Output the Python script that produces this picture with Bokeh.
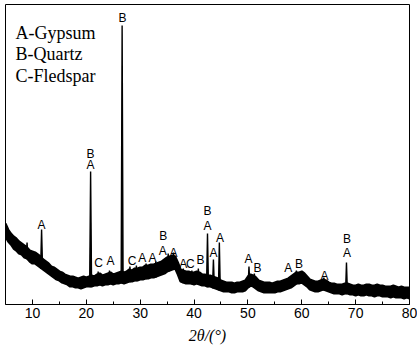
import numpy as np
from bokeh.plotting import figure
from bokeh.models import FixedTicker
from bokeh.core.properties import value
from bokeh.embed import file_html
from bokeh.resources import INLINE

# 2theta grid of the noisy background band (deg)
two_theta = [5.0 + 0.5 * i for i in range(151)]
# upper edge of the band (a.u.)
band_upper = [81, 75, 71, 68, 66, 63, 61, 59, 57, 54, 53, 52, 50, 48, 45, 43, 41, 38, 37, 35,
              33, 32, 30, 29, 28, 28, 27, 26, 27, 28, 27, 28, 29, 28, 30, 31, 29, 30, 31, 32,
              30, 31, 32, 33, 32, 33, 35, 34, 36, 36, 37, 37, 39, 39, 40, 40, 41, 42, 43, 45,
              47, 48, 49, 48, 42, 35, 34, 33, 33, 32, 32, 33, 32, 30, 30, 29, 29, 28, 27, 26,
              24, 23, 22, 22, 22, 21, 22, 22, 23, 24, 28, 30, 29, 27, 24, 23, 22, 22, 22, 21,
              22, 23, 23, 24, 25, 26, 28, 30, 32, 32, 33, 31, 28, 25, 24, 23, 23, 24, 25, 24,
              22, 21, 21, 20, 20, 20, 21, 21, 20, 19, 19, 20, 19, 19, 20, 20, 19, 19, 20, 19,
              19, 18, 18, 18, 19, 18, 17, 18, 17, 17, 17]
# lower edge of the band (a.u.)
band_lower = [68, 63, 60, 56, 54, 51, 50, 47, 46, 43, 41, 41, 39, 37, 35, 33, 31, 29, 27, 25,
              24, 22, 21, 20, 18, 18, 17, 17, 16, 17, 18, 18, 18, 19, 19, 20, 19, 20, 20, 21,
              20, 21, 21, 22, 21, 22, 23, 23, 24, 24, 25, 25, 26, 26, 27, 27, 28, 29, 30, 31,
              33, 34, 35, 36, 30, 23, 22, 21, 21, 21, 20, 21, 20, 19, 19, 18, 18, 17, 16, 15,
              14, 13, 13, 13, 12, 12, 13, 13, 13, 14, 17, 19, 18, 16, 14, 13, 12, 12, 12, 12,
              12, 13, 13, 14, 15, 16, 17, 19, 21, 21, 22, 20, 18, 15, 14, 13, 13, 14, 15, 14,
              13, 12, 11, 11, 11, 10, 11, 11, 10, 10, 9, 10, 9, 9, 10, 9, 9, 8, 9, 9,
              8, 8, 8, 7, 8, 7, 7, 7, 6, 7, 6]

# diffraction peaks: position (deg) and apex intensity (a.u.)
peak_pos = [9.0, 11.7, 20.8, 22.2, 24.3, 26.65, 28.1, 29.3, 31.1, 32.9, 35.2, 36.2,
            38.0, 39.6, 40.8, 42.5, 43.6, 44.7, 50.2, 51.2, 59.0, 64.1, 68.3]
peak_top = [62, 75, 133, 33, 34, 279, 38, 39, 41, 43, 51, 52,
            36, 34, 36, 71, 45, 62, 38, 31, 34, 27, 42]

# phase labels
lab_text = ["A", "B", "A", "B", "C", "A", "C", "A", "A", "A", "B", "A",
            "A", "C", "B", "B", "A", "A", "A", "A", "B", "A", "B", "A", "B", "A"]
lab_x = [11.7, 20.8, 20.8, 26.7, 22.3, 24.5, 28.5, 30.4, 32.3, 34.2, 34.3, 36.2,
         38.0, 39.3, 41.2, 42.5, 42.5, 43.6, 44.8, 50.1, 51.8, 57.5, 59.5, 64.2, 68.4, 68.4]
lab_y = [80, 151, 140, 287, 42, 44, 44, 47, 47, 54, 69, 52,
         41, 41, 45, 94, 79, 52, 67, 46, 37, 37, 41, 29, 66, 52]

legend_lines = ["A-Gypsum", "B-Quartz", "C-Fledspar"]
legend_y = [272, 251, 229]

x_ticks = [10, 20, 30, 40, 50, 60, 70, 80]
x_minor = [15, 25, 35, 45, 55, 65, 75]

p = figure(frame_width=404, frame_height=300, x_range=(5, 80), y_range=(0, 300),
           output_backend="svg", toolbar_location=None,
           min_border_left=5, min_border_right=8, min_border_top=4, min_border_bottom=0)
p.background_fill_color = "white"
p.border_fill_color = "white"
p.outline_line_color = "black"
p.outline_line_width = 1
p.xgrid.visible = False
p.ygrid.visible = False
p.yaxis.visible = False

ax = p.xaxis[0]
ax.ticker = FixedTicker(ticks=x_ticks, minor_ticks=x_minor)
ax.major_tick_in = 5
ax.major_tick_out = 0
ax.minor_tick_in = 3
ax.minor_tick_out = 0
ax.axis_line_color = "black"
ax.major_label_text_font = "Liberation Sans"
ax.major_label_text_font_size = "14px"
ax.major_label_text_color = "black"
ax.major_label_standoff = 3
ax.axis_label = "2θ/(°)"
ax.axis_label_text_font = "Liberation Serif"
ax.axis_label_text_font_style = "italic"
ax.axis_label_text_font_size = "16px"
ax.axis_label_text_color = "black"
ax.axis_label_standoff = 6

# background band
p.varea(x=two_theta, y1=band_lower, y2=band_upper, fill_color="black")
p.line(x=two_theta, y=band_upper, line_color="black", line_width=2.2)
p.line(x=two_theta, y=band_lower, line_color="black", line_width=2.2)

# peaks
base = np.interp(peak_pos, two_theta, band_lower)
hw = 0.18
xs = [[x - hw, x, x + hw] for x in peak_pos]
ys = [[b, t, b] for b, t in zip(base, peak_top)]
p.patches(xs=xs, ys=ys, fill_color="black", line_color="black", line_width=1.4)

p.text(x=lab_x, y=lab_y, text=lab_text, text_align="center", text_baseline="middle",
       text_font=value("Liberation Sans"), text_font_size="12px", text_color="black")

p.text(x=[6.85] * 3, y=legend_y, text=legend_lines, text_align="left", text_baseline="middle",
       text_font=value("Liberation Serif"), text_font_size="18px", text_color="black")

open("out.html", "w").write(file_html(p, INLINE))
